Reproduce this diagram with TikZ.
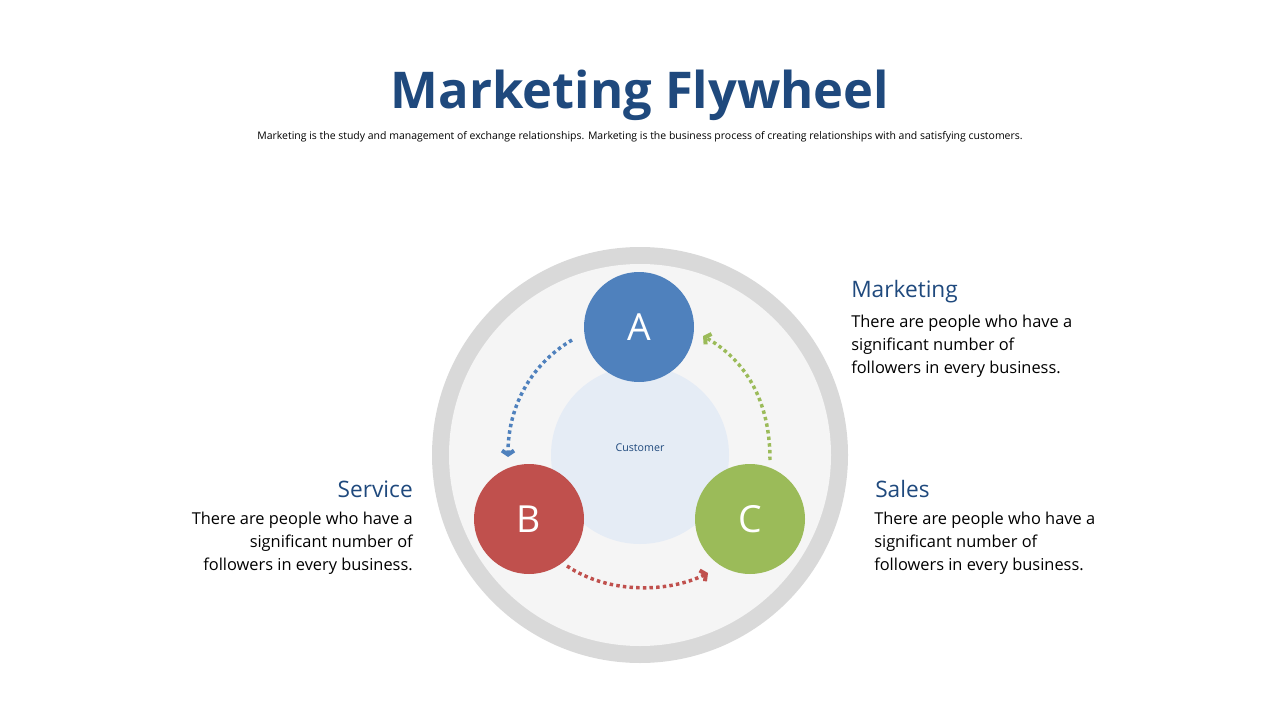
\documentclass[tikz,border=0pt]{standalone}
\usepackage{fontspec}
\setmainfont{Open Sans}
\usetikzlibrary{arrows.meta}
\definecolor{ttl}{HTML}{1F497D}
\definecolor{cA}{HTML}{4F81BD}
\definecolor{cB}{HTML}{C0504D}
\definecolor{cC}{HTML}{9BBB59}
\begin{document}
\begin{tikzpicture}[x=0.75pt,y=-0.75pt,
  ball/.style={circle,minimum size=82.5pt,inner sep=0,text=white,font=\fontsize{28}{30}\selectfont},
  flow/.style={line width=2.6pt,dash pattern=on 2.6pt off 2.4pt,-{Straight Barb[length=3pt,width=9pt,line width=3pt]}},
  head/.style={text=ttl,font=\fontsize{17}{20}\selectfont,inner sep=0},
  body/.style={font=\fontsize{12.3}{17}\selectfont,inner sep=0}]
\useasboundingbox (0,0) rectangle (1280,720);
\node[text=ttl,font=\fontsize{38}{44}\selectfont\bfseries] (title) at (640,95) {Marketing Flywheel};
\node[font=\fontsize{7.85}{9}\selectfont] (sub) at (640,137) {Marketing is the study and management of exchange relationships. Marketing is the business process of creating relationships with and satisfying customers.};
\node[circle,fill=black!15,minimum size=312pt,inner sep=0] (ring) at (640,455) {};
\node[circle,fill=black!4,minimum size=286.5pt,inner sep=0] (inner) at (640,455) {};
\node[circle,fill=cA!15,minimum size=133.5pt,inner sep=0,text=ttl,font=\fontsize{8}{10}\selectfont] (cust) at (640,455) {\raisebox{11pt}{Customer}};
\node[ball,fill=cA] (A) at (639,327) {A};
\node[ball,fill=cB] (B) at (529,519) {B};
\node[ball,fill=cC] (C) at (750,519) {C};
\coordinate (a1) at (572,340); \coordinate (a2) at (508,457);
\coordinate (c1) at (770,460); \coordinate (c2) at (703,336);
\coordinate (b1) at (567,566); \coordinate (b2) at (708,573);
\draw[flow,color=cA] (a1) .. controls (528,366) and (508,410) .. (a2);
\draw[flow,color=cC] (c1) .. controls (770,400) and (745,360) .. (c2);
\draw[flow,color=cB] (b1) .. controls (610,595) and (670,592) .. (b2);
\node[head,anchor=west] (hm) at (851,292) {Marketing};
\node[body,anchor=north west,align=left] (tm) at (851,315) {There are people who have a\\significant number of\\followers in every business.};
\node[head,anchor=west] (hs) at (875,489) {Sales};
\node[body,anchor=north west,align=left] (ts) at (874,512) {There are people who have a\\significant number of\\followers in every business.};
\node[head,anchor=east] (hv) at (413,489) {Service};
\node[body,anchor=north east,align=right] (tv) at (413,512) {There are people who have a\\significant number of\\followers in every business.};
\end{tikzpicture}
\end{document}
